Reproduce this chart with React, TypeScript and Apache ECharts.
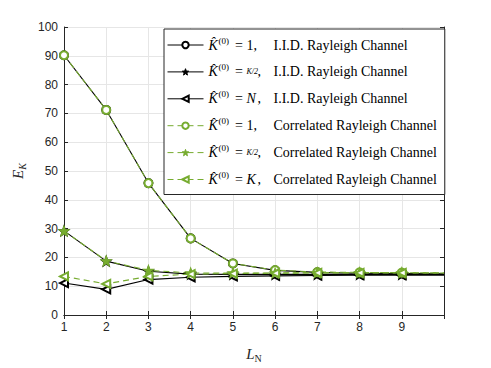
import React, { useEffect, useRef } from "react";
import * as echarts from "echarts";

const xs = [1, 2, 3, 4, 5, 6, 7, 8, 9, 10];
const iidK1 = [90.2, 71.2, 45.8, 26.6, 17.9, 15.5, 14.8, 14.5, 14.4, 14.3];
const iidHalf = [29.2, 18.7, 15.2, 14.2, 14.1, 14.1, 14.1, 14.1, 14.1, 14.1];
const iidN = [11.1, 8.9, 12.3, 13.1, 13.4, 13.6, 13.7, 13.8, 13.8, 13.8];
const corK1 = [90.2, 71.2, 45.8, 26.6, 17.9, 15.6, 14.9, 14.8, 14.7, 14.6];
const corHalf = [29.2, 18.8, 15.5, 14.6, 14.6, 14.6, 14.7, 14.7, 14.7, 14.6];
const corK = [13.4, 10.8, 13.4, 14.2, 14.4, 14.5, 14.6, 14.6, 14.6, 14.6];
const xTicks = [1, 2, 3, 4, 5, 6, 7, 8, 9];

const GREEN = "#77AC30";
const STAR =
  "path://M12,0 L14.9,8.1 L23.4,8.3 L16.7,13.5 L19.1,21.7 L12,16.9 L4.9,21.7 L7.3,13.5 L0.6,8.3 L9.1,8.1 Z";

const names = ["iid1", "iidHalf", "iidN", "cor1", "corHalf", "corK"];
const legendText: Record<string, string> = {
  iid1: "{k|K̂}{s|(0)}{g| =}{u|1,}{b|I.I.D. Rayleigh Channel}",
  iidHalf: "{k|K̂}{s|(0)}{g| =}{f|K/2}{h|,}{b|I.I.D. Rayleigh Channel}",
  iidN: "{k|K̂}{s|(0)}{g| =}{n|N}{h|,}{b|I.I.D. Rayleigh Channel}",
  cor1: "{k|K̂}{s|(0)}{g| =}{u|1,}{b|Correlated Rayleigh Channel}",
  corHalf: "{k|K̂}{s|(0)}{g| =}{f|K/2}{h|,}{b|Correlated Rayleigh Channel}",
  corK: "{k|K̂}{s|(0)}{g| =}{n|K}{h|,}{b|Correlated Rayleigh Channel}",
};

function mk(vals: number[]) {
  return vals.map((v, i) =>
    i === vals.length - 1 ? { value: [xs[i], v], symbol: "none" } : { value: [xs[i], v] }
  );
}

export default function App() {
  const ref = useRef<HTMLDivElement>(null);
  useEffect(() => {
    const chart = echarts.init(ref.current!, undefined, { renderer: "svg" });
    const serif = "Liberation Serif";
    const FS = 14;
    const LH = 18;
    const mkSeries = (
      name: string,
      vals: number[],
      color: string,
      symbol: string,
      dashed: boolean,
      extra: any = {}
    ) => ({
      name,
      type: "line",
      data: mk(vals),
      symbol,
      symbolSize: 8,
      showSymbol: true,
      lineStyle: { color, width: 1.1, type: dashed ? [6, 4] : "solid" },
      itemStyle: { color, borderColor: color, borderWidth: 1.1 },
      emphasis: { disabled: true },
      ...extra,
    });
    const base = { fontFamily: serif, fontSize: FS, color: "#000", lineHeight: LH };
    chart.setOption({
      animation: false,
      backgroundColor: "#fff",
      grid: { left: 64, right: 47, top: 27, bottom: 45 },
      xAxis: [
        {
          type: "value",
          min: 1,
          max: 10,
          interval: 1,
          name: "{l|L}{s|N}",
          nameLocation: "middle",
          nameGap: 30,
          nameTextStyle: {
            rich: {
              l: { fontFamily: serif, fontStyle: "italic", fontSize: 15, color: "#262626" },
              s: { fontFamily: serif, fontSize: 10, color: "#262626", padding: [8, 0, 0, 0] },
            },
          },
          axisLine: { show: true, lineStyle: { color: "#262626", width: 1 } },
          axisTick: { show: true, inside: true, length: 4, lineStyle: { color: "#262626" } },
          axisLabel: {
            color: "#262626",
            fontSize: 12,
            fontFamily: "Liberation Sans",
            margin: 6,
            formatter: (v: number) => (xTicks.includes(v) ? String(v) : ""),
          },
          splitLine: { show: true, lineStyle: { color: "#e6e6e6", width: 1 } },
        },
        {
          type: "value",
          position: "top",
          min: 1,
          max: 10,
          interval: 1,
          axisLine: { show: true, lineStyle: { color: "#262626", width: 1 } },
          axisTick: { show: true, inside: true, length: 4, lineStyle: { color: "#262626" } },
          axisLabel: { show: false },
          splitLine: { show: false },
        },
      ],
      yAxis: [
        {
          type: "value",
          min: 0,
          max: 100,
          interval: 10,
          name: "{e|E}{s|K}",
          nameLocation: "middle",
          nameGap: 31,
          nameRotate: 90,
          nameTextStyle: {
            rich: {
              e: { fontFamily: serif, fontStyle: "italic", fontSize: 15, color: "#262626" },
              s: { fontFamily: serif, fontStyle: "italic", fontSize: 10, color: "#262626", padding: [8, 0, 0, 0] },
            },
          },
          axisLine: { show: true, lineStyle: { color: "#262626", width: 1 } },
          axisTick: { show: true, inside: true, length: 4, lineStyle: { color: "#262626" } },
          axisLabel: { color: "#262626", fontSize: 12, fontFamily: "Liberation Sans", margin: 6 },
          splitLine: { show: true, lineStyle: { color: "#e6e6e6", width: 1 } },
        },
        {
          type: "value",
          position: "right",
          min: 0,
          max: 100,
          interval: 10,
          axisLine: { show: true, lineStyle: { color: "#262626", width: 1 } },
          axisTick: { show: true, inside: true, length: 4, lineStyle: { color: "#262626" } },
          axisLabel: { show: false },
          splitLine: { show: false },
        },
      ],
      legend: {
        orient: "vertical",
        left: 164,
        top: 29,
        width: 276,
        padding: [7, 8, 6, 3],
        itemGap: 8.9,
        itemWidth: 36,
        itemHeight: 8,
        backgroundColor: "#fff",
        borderColor: "#262626",
        borderWidth: 1,
        data: names,
        lineStyle: { width: 1 },
        itemStyle: { borderWidth: 1 },
        formatter: (n: string) => legendText[n],
        textStyle: {
          ...base,
          rich: {
            k: { ...base, fontStyle: "italic", width: 10 },
            s: { ...base, fontSize: 9, verticalAlign: "top", width: 13 },
            g: { ...base, width: 15 },
            u: { ...base, width: 27 },
            n: { ...base, fontStyle: "italic", width: 11 },
            f: { ...base, fontStyle: "italic", fontSize: 8, width: 11 },
            h: { ...base, width: 16 },
            b: { ...base },
          },
        },
      },
      series: [
        mkSeries("iid1", iidK1, "#000", "emptyCircle", false),
        mkSeries("iidHalf", iidHalf, "#000", STAR, false, { symbolSize: 10 }),
        mkSeries("iidN", iidN, "#000", "emptyTriangle", false, { symbolRotate: 90 }),
        mkSeries("cor1", corK1, GREEN, "emptyCircle", true),
        mkSeries("corHalf", corHalf, GREEN, STAR, true, { symbolSize: 10 }),
        mkSeries("corK", corK, GREEN, "emptyTriangle", true, { symbolRotate: 90 }),
      ],
    });
    return () => chart.dispose();
  }, []);
  return <div ref={ref} style={{ width: 491, height: 368, position: "absolute", left: 0, top: 0 }} />;
}
